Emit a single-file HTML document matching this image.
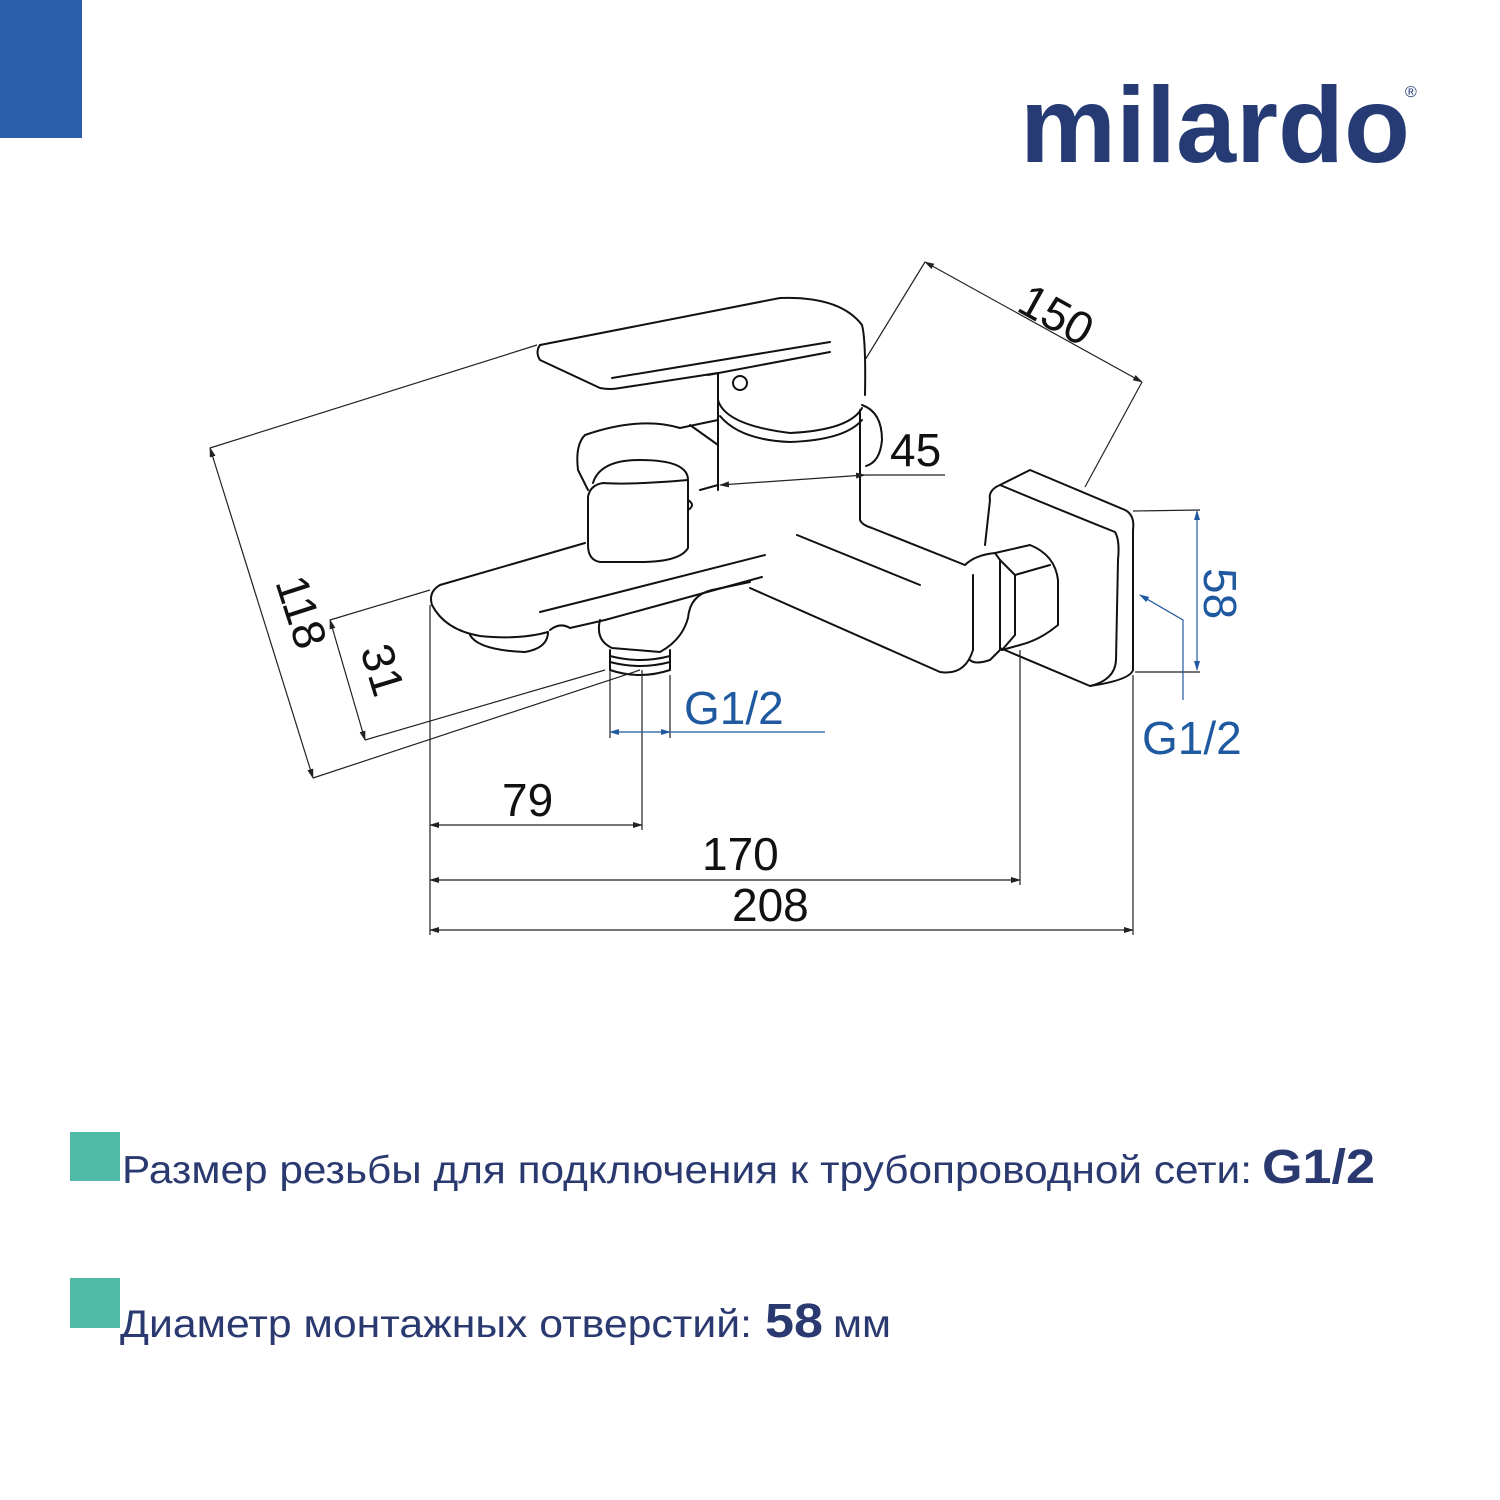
<!DOCTYPE html>
<html><head><meta charset="utf-8"><style>
html,body{margin:0;padding:0;background:#fff;width:1500px;height:1500px;overflow:hidden}
svg{display:block}
</style></head><body>
<svg width="1500" height="1500" viewBox="0 0 1500 1500" xmlns="http://www.w3.org/2000/svg">
<defs>
<marker id="a" markerWidth="10" markerHeight="6" refX="9" refY="3" orient="auto-start-reverse" markerUnits="userSpaceOnUse"><path d="M0,0 L10,3 L0,6 z" fill="#222"/></marker>
<marker id="b" markerWidth="10" markerHeight="6" refX="9" refY="3" orient="auto-start-reverse" markerUnits="userSpaceOnUse"><path d="M0,0 L10,3 L0,6 z" fill="#1f5aa0"/></marker>
</defs>
<rect x="0" y="0" width="82" height="138" fill="#2a5eab"/>
<text x="1020" y="162" font-family="Liberation Sans, sans-serif" font-weight="700" font-size="108" fill="#263a73" textLength="390" lengthAdjust="spacing">milardo</text>
<text x="1405" y="97" font-family="Liberation Sans, sans-serif" font-size="16" fill="#263a73">®</text>

<g fill="none" stroke="#111" stroke-width="2" stroke-linejoin="round" stroke-linecap="round">
<path d="M540,345 L780,298 Q840,296 862,325 Q866,340 865,395"/>
<path d="M540,345 Q535,352 540,360 L600,388 Q610,390 620,388 L718,373"/>
<path d="M612,378 L830,342"/>
<path d="M708,375 L830,352"/>
<circle cx="740" cy="383" r="7"/>
<path d="M718,373 L718,490"/>
<path d="M718,400 Q725,425 790,433 Q850,430 862,408"/>
<path d="M720,416 Q740,440 790,442 Q845,440 862,420"/>
<path d="M862,405 Q882,412 882,440 Q880,462 866,466"/>
<path d="M860,410 L860,520 Q862,525 872,528 L965,565"/>
<path d="M718,420 L680,428 Q640,416 585,435 Q575,445 578,470 L588,490"/>
<path d="M690,425 L718,445"/>
<path d="M700,490 L718,485"/>
<path d="M593,483 Q600,460 640,460 Q688,460 688,480 L688,548 Q680,562 640,562 L600,562 Q588,560 588,545 L588,497 Q590,485 603,483 Q630,485 688,480"/>
<path d="M688,500 Q696,505 688,510"/>
<path d="M585,543 L440,585 Q428,592 432,605 Q445,630 480,636 Q520,640 548,632"/>
<path d="M470,635 Q478,650 525,652 Q548,648 548,632"/>
<path d="M550,630 Q560,622 570,628 L605,620 L762,577"/>
<path d="M765,555 L600,597 L540,612"/>
<path d="M600,620 Q595,640 612,648 L660,652 Q682,640 688,618 Q690,595 712,590 L750,582"/>
<path d="M750,588 L940,672 Q965,676 973,650 L973,575"/>
<path d="M797,535 L920,585"/>
<path d="M610,650 L610,670 Q640,680 670,670 L670,650"/>
<path d="M610,656 Q640,664 670,656 M610,662 Q640,670 670,662"/>
<path d="M965,565 Q975,555 995,553 L1000,560 L1000,650 L990,660 Q975,665 970,660"/>
<path d="M995,553 L1030,545 Q1055,555 1058,580 L1058,625 Q1040,640 1020,645 L1002,650"/>
<path d="M1000,560 L1015,575 L1015,635 L1002,650"/>
<path d="M1015,575 L1050,565"/>
<path d="M990,500 Q988,490 1000,485 L1030,470 L1125,510 Q1135,515 1133,530 L1133,670 Q1130,680 1090,686 L1000,648"/>
<path d="M990,500 L985,545"/>
<path d="M1000,485 Q1060,510 1115,532 Q1120,540 1118,560 L1116,660 Q1115,680 1090,686"/>
</g>

<g fill="none" stroke="#222" stroke-width="1.2">
<path d="M925,262 L865,360 M1142,382 L1085,487"/>
<path d="M925,262 L1142,382" marker-start="url(#a)" marker-end="url(#a)"/>
<path d="M210,448 L537,345 M313,778 L640,670"/>
<path d="M210,448 L313,778" marker-start="url(#a)" marker-end="url(#a)"/>
<path d="M330,620 L430,590 M365,740 L605,670"/>
<path d="M330,620 L365,740" marker-start="url(#a)" marker-end="url(#a)"/>
<path d="M720,485 L865,475" marker-start="url(#a)" marker-end="url(#a)"/>
<path d="M865,475 L945,475"/>
<path d="M430,605 L430,935 M642,670 L642,830 M1020,650 L1020,885 M1133,675 L1133,935"/>
<path d="M430,825 L642,825" marker-start="url(#a)" marker-end="url(#a)"/>
<path d="M430,880 L1020,880" marker-start="url(#a)" marker-end="url(#a)"/>
<path d="M430,930 L1133,930" marker-start="url(#a)" marker-end="url(#a)"/>
<path d="M610,670 L610,738 M670,675 L670,738 M1133,511 L1200,510 M1135,672 L1200,672"/>
</g>
<g fill="none" stroke="#1f5aa0" stroke-width="1.2">
<path d="M610,732 L670,732" marker-start="url(#b)" marker-end="url(#b)"/>
<path d="M670,732 L825,732"/>
<path d="M1197,511 L1197,670" marker-start="url(#b)" marker-end="url(#b)"/>
<path d="M1183,700 L1183,620 L1140,595" marker-end="url(#b)"/>
</g>

<g font-family="Liberation Sans, sans-serif" font-size="46" fill="#111">
<text transform="translate(1015,310) rotate(29)">150</text>
<text transform="translate(275,582) rotate(72)">118</text>
<text transform="translate(360,650) rotate(73)">31</text>
<text x="890" y="466">45</text>
<text x="502" y="816">79</text>
<text x="702" y="870">170</text>
<text x="732" y="921">208</text>
</g>
<g font-family="Liberation Sans, sans-serif" font-size="46" fill="#1f5aa0">
<text x="684" y="724">G1/2</text>
<text x="1142" y="754">G1/2</text>
<text transform="translate(1204,568) rotate(90)">58</text>
</g>

<rect x="70" y="1132" width="50" height="49" fill="#4fbaa5"/>
<rect x="70" y="1278" width="50" height="50" fill="#4fbaa5"/>
<g font-family="Liberation Sans, sans-serif" fill="#2a3a70">
<text x="122" y="1183" font-size="39" textLength="1130" lengthAdjust="spacingAndGlyphs">Размер резьбы для подключения к трубопроводной сети:</text>
<text x="1262" y="1183" font-size="48" font-weight="700" textLength="113" lengthAdjust="spacingAndGlyphs">G1/2</text>
<text x="120" y="1337" font-size="39" textLength="632" lengthAdjust="spacingAndGlyphs">Диаметр монтажных отверстий:</text>
<text x="765" y="1337" font-size="48" font-weight="700" textLength="58" lengthAdjust="spacingAndGlyphs">58</text>
<text x="833" y="1337" font-size="39" textLength="58" lengthAdjust="spacingAndGlyphs">мм</text>
</g>
</svg>
</body></html>
